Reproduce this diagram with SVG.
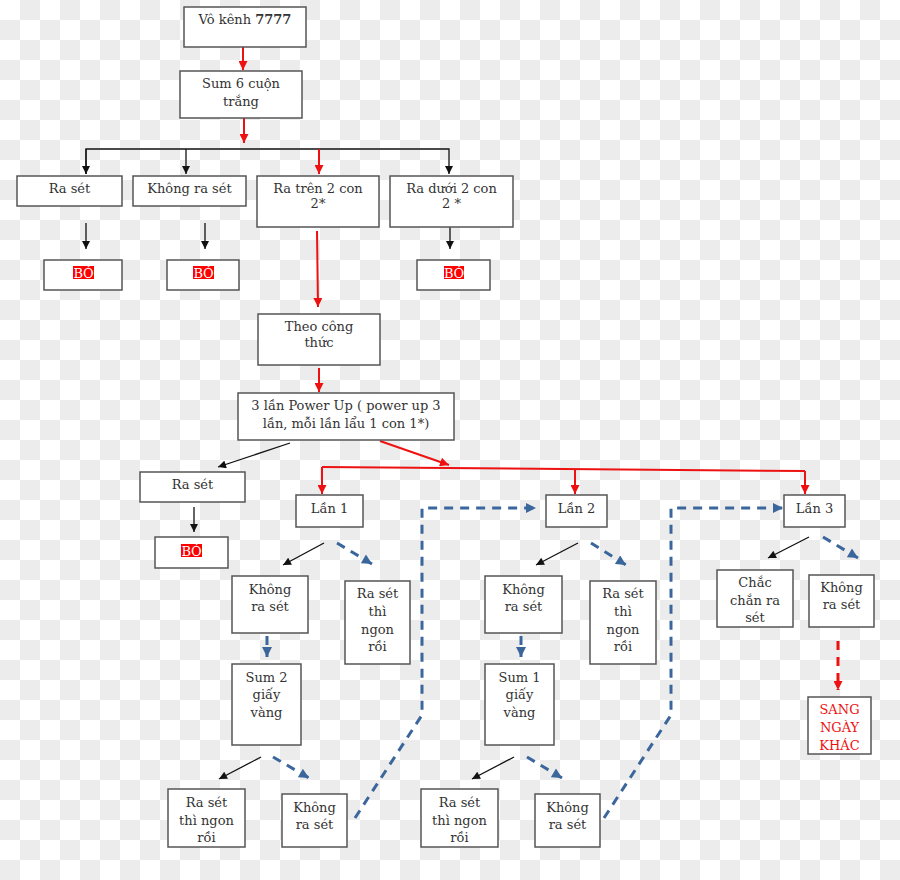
<svg xmlns="http://www.w3.org/2000/svg" width="900" height="880" viewBox="0 0 900 880">
<defs>
<pattern id="checker" x="0" y="0" width="40" height="40" patternUnits="userSpaceOnUse">
<rect width="40" height="40" fill="#ffffff"/>
<rect x="20" y="0" width="20" height="20" fill="#ececec"/>
<rect x="0" y="20" width="20" height="20" fill="#ececec"/>
</pattern>
<marker id="ab" viewBox="0 0 10 10" refX="10" refY="5" markerWidth="9" markerHeight="8" markerUnits="userSpaceOnUse" orient="auto"><path d="M0,0 L10,5 L0,10 z" fill="#111"/></marker>
<marker id="ar" viewBox="0 0 10 10" refX="10" refY="5" markerWidth="10" markerHeight="9" markerUnits="userSpaceOnUse" orient="auto"><path d="M0,0 L10,5 L0,10 z" fill="#ee1111"/></marker>
<marker id="abl" viewBox="0 0 10 10" refX="10" refY="5" markerWidth="11" markerHeight="10" markerUnits="userSpaceOnUse" orient="auto"><path d="M0,0 L10,5 L0,10 z" fill="#3b669c"/></marker>
</defs>
<style>
.box{fill:#ffffff;stroke:#555555;stroke-width:1.5}
.t{font-family:"DejaVu Serif","Liberation Serif",serif;font-size:13px;fill:#333333;text-anchor:middle}
.red{fill:#ee1111}
.bo{font-family:"DejaVu Serif","Liberation Serif",serif;font-size:13px;fill:#ffffff;text-anchor:middle}
.hl{fill:#ff0000}
.cb{stroke:#111;stroke-width:1.3;fill:none}
.cr{stroke:#ee1111;stroke-width:2;fill:none}
.cbl{stroke:#3b669c;stroke-width:3;fill:none;stroke-dasharray:9 7}
.crd{stroke:#ee1111;stroke-width:3;fill:none;stroke-dasharray:9 7}
</style>
<rect width="900" height="880" fill="url(#checker)"/>

<g id="connectors">
<line class="cr" x1="243" y1="47" x2="243" y2="70" marker-end="url(#ar)"/>
<line class="cr" x1="244" y1="118" x2="244" y2="143" marker-end="url(#ar)"/>
<polyline class="cb" points="86,174 86,149 449,149 449,174" marker-end="url(#ab)"/>
<line class="cb" x1="86" y1="149" x2="86" y2="174" marker-end="url(#ab)"/>
<line class="cb" x1="186" y1="149" x2="186" y2="174" marker-end="url(#ab)"/>
<line class="cr" x1="319" y1="149" x2="319" y2="174" marker-end="url(#ar)"/>
<line class="cb" x1="86" y1="223" x2="86" y2="249" marker-end="url(#ab)"/>
<line class="cb" x1="205" y1="223" x2="205" y2="249" marker-end="url(#ab)"/>
<line class="cb" x1="450" y1="224" x2="450" y2="249" marker-end="url(#ab)"/>
<line class="cr" x1="317" y1="231" x2="318" y2="307" marker-end="url(#ar)"/>
<line class="cr" x1="319" y1="368" x2="319" y2="392" marker-end="url(#ar)"/>
<line class="cb" x1="290" y1="443" x2="218" y2="467" marker-end="url(#ab)"/>
<line class="cr" x1="380" y1="441" x2="449" y2="465" marker-end="url(#ar)"/>
<polyline class="cr" points="322,467 805,471"/>
<line class="cr" x1="322" y1="467" x2="322" y2="494" marker-end="url(#ar)"/>
<line class="cr" x1="575" y1="470" x2="575" y2="494" marker-end="url(#ar)"/>
<line class="cr" x1="805" y1="471" x2="805" y2="494" marker-end="url(#ar)"/>
<line class="cb" x1="194" y1="507" x2="194" y2="532" marker-end="url(#ab)"/>
<line class="cb" x1="324" y1="543" x2="283" y2="565" marker-end="url(#ab)"/>
<line class="cbl" x1="337" y1="543" x2="372" y2="564" marker-end="url(#abl)"/>
<line class="cb" x1="578" y1="543" x2="536" y2="565" marker-end="url(#ab)"/>
<line class="cbl" x1="591" y1="543" x2="626" y2="565" marker-end="url(#abl)"/>
<line class="cb" x1="809" y1="537" x2="768" y2="558" marker-end="url(#ab)"/>
<line class="cbl" x1="823" y1="537" x2="858" y2="558" marker-end="url(#abl)"/>
<line class="cbl" x1="267" y1="636" x2="267" y2="657" marker-end="url(#abl)"/>
<line class="cbl" x1="521" y1="636" x2="521" y2="657" marker-end="url(#abl)"/>
<line class="cb" x1="261" y1="757" x2="219" y2="779" marker-end="url(#ab)"/>
<line class="cbl" x1="273" y1="757" x2="309" y2="778" marker-end="url(#abl)"/>
<line class="cb" x1="514" y1="757" x2="472" y2="779" marker-end="url(#ab)"/>
<line class="cbl" x1="527" y1="757" x2="562" y2="778" marker-end="url(#abl)"/>
<polyline class="cbl" points="355,818 422,715 422,508 536,508" marker-end="url(#abl)"/>
<polyline class="cbl" points="604,818 671,715 671,508 783,508" marker-end="url(#abl)"/>
<line class="crd" x1="838" y1="641" x2="838" y2="690" marker-end="url(#ar)"/>
</g>

<g id="n1"><rect class="box" x="184" y="7" width="122" height="40"/><text class="t" x="245" y="24">Vô kênh <tspan font-weight="bold">7777</tspan></text></g>
<g id="n2"><rect class="box" x="180" y="71" width="122" height="47"/><text class="t" x="241" y="88">Sum 6 cuộn</text><text class="t" x="241" y="106">trắng</text></g>
<g id="n3"><rect class="box" x="17" y="176" width="105" height="30"/><text class="t" x="69.5" y="193">Ra sét</text></g>
<g id="n4"><rect class="box" x="133" y="176" width="113" height="30"/><text class="t" x="189.5" y="193">Không ra sét</text></g>
<g id="n5"><rect class="box" x="257" y="176" width="122" height="51"/><text class="t" x="318" y="193">Ra trên 2 con</text><text class="t" x="318" y="208">2*</text></g>
<g id="n6"><rect class="box" x="390" y="176" width="123" height="51"/><text class="t" x="451.5" y="193">Ra dưới 2 con</text><text class="t" x="451.5" y="208">2 *</text></g>
<g id="n7"><rect class="box" x="44" y="260" width="78" height="30"/><rect class="hl" x="73" y="266" width="21" height="13"/><text class="bo" x="83.5" y="278">BỎ</text></g>
<g id="n8"><rect class="box" x="167" y="260" width="72" height="30"/><rect class="hl" x="193" y="266" width="21" height="13"/><text class="bo" x="203.5" y="278">BỎ</text></g>
<g id="n9"><rect class="box" x="417" y="260" width="73" height="30"/><rect class="hl" x="444" y="266" width="20" height="13"/><text class="bo" x="454" y="278">BỎ</text></g>
<g id="n10"><rect class="box" x="258" y="314" width="122" height="51"/><text class="t" x="319" y="331">Theo công</text><text class="t" x="319" y="347">thức</text></g>
<g id="n11"><rect class="box" x="238" y="393" width="216" height="47"/><text class="t" x="346" y="410">3 lần Power Up ( power up 3</text><text class="t" x="346" y="428">lần, mỗi lần lẩu 1 con 1*)</text></g>
<g id="n12"><rect class="box" x="140" y="472" width="105" height="30"/><text class="t" x="192.5" y="489">Ra sét</text></g>
<g id="n13"><rect class="box" x="155" y="537" width="73" height="31"/><rect class="hl" x="181" y="544" width="21" height="13"/><text class="bo" x="191.5" y="556">BỎ</text></g>
<g id="n14"><rect class="box" x="296" y="495" width="67" height="32"/><text class="t" x="329.5" y="513">Lần 1</text></g>
<g id="n15"><rect class="box" x="546" y="495" width="61" height="32"/><text class="t" x="576.5" y="513">Lần 2</text></g>
<g id="n16"><rect class="box" x="784" y="495" width="61" height="32"/><text class="t" x="814.5" y="513">Lần 3</text></g>
<g id="n17"><rect class="box" x="232" y="576" width="76" height="57"/><text class="t" x="270" y="594">Không</text><text class="t" x="270" y="611">ra sét</text></g>
<g id="n18"><rect class="box" x="345" y="581" width="65" height="83"/><text class="t" x="377.5" y="598">Ra sét</text><text class="t" x="377.5" y="616">thì</text><text class="t" x="377.5" y="634">ngon</text><text class="t" x="377.5" y="651">rồi</text></g>
<g id="n19"><rect class="box" x="232" y="664" width="69" height="81"/><text class="t" x="266.5" y="682">Sum 2</text><text class="t" x="266.5" y="699">giấy</text><text class="t" x="266.5" y="717">vàng</text></g>
<g id="n20"><rect class="box" x="168" y="789" width="77" height="58"/><text class="t" x="206.5" y="807">Ra sét</text><text class="t" x="206.5" y="825">thì ngon</text><text class="t" x="206.5" y="842">rồi</text></g>
<g id="n21"><rect class="box" x="282" y="794" width="65" height="53"/><text class="t" x="314.5" y="812">Không</text><text class="t" x="314.5" y="829">ra sét</text></g>
<g id="n22"><rect class="box" x="485" y="576" width="77" height="57"/><text class="t" x="523.5" y="594">Không</text><text class="t" x="523.5" y="611">ra sét</text></g>
<g id="n23"><rect class="box" x="590" y="581" width="66" height="83"/><text class="t" x="623" y="598">Ra sét</text><text class="t" x="623" y="616">thì</text><text class="t" x="623" y="634">ngon</text><text class="t" x="623" y="651">rồi</text></g>
<g id="n24"><rect class="box" x="485" y="664" width="69" height="81"/><text class="t" x="519.5" y="682">Sum 1</text><text class="t" x="519.5" y="699">giấy</text><text class="t" x="519.5" y="717">vàng</text></g>
<g id="n25"><rect class="box" x="421" y="789" width="77" height="58"/><text class="t" x="459.5" y="807">Ra sét</text><text class="t" x="459.5" y="825">thì ngon</text><text class="t" x="459.5" y="842">rồi</text></g>
<g id="n26"><rect class="box" x="535" y="794" width="65" height="53"/><text class="t" x="567.5" y="812">Không</text><text class="t" x="567.5" y="829">ra sét</text></g>
<g id="n27"><rect class="box" x="717" y="570" width="76" height="57"/><text class="t" x="755" y="587">Chắc</text><text class="t" x="755" y="605">chắn ra</text><text class="t" x="755" y="622">sét</text></g>
<g id="n28"><rect class="box" x="809" y="575" width="65" height="52"/><text class="t" x="841.5" y="592">Không</text><text class="t" x="841.5" y="609">ra sét</text></g>
<g id="n29"><rect class="box" x="808" y="697" width="63" height="57"/><text class="t red" x="839.5" y="714">SANG</text><text class="t red" x="839.5" y="732">NGÀY</text><text class="t red" x="839.5" y="750">KHÁC</text></g>
</svg>
